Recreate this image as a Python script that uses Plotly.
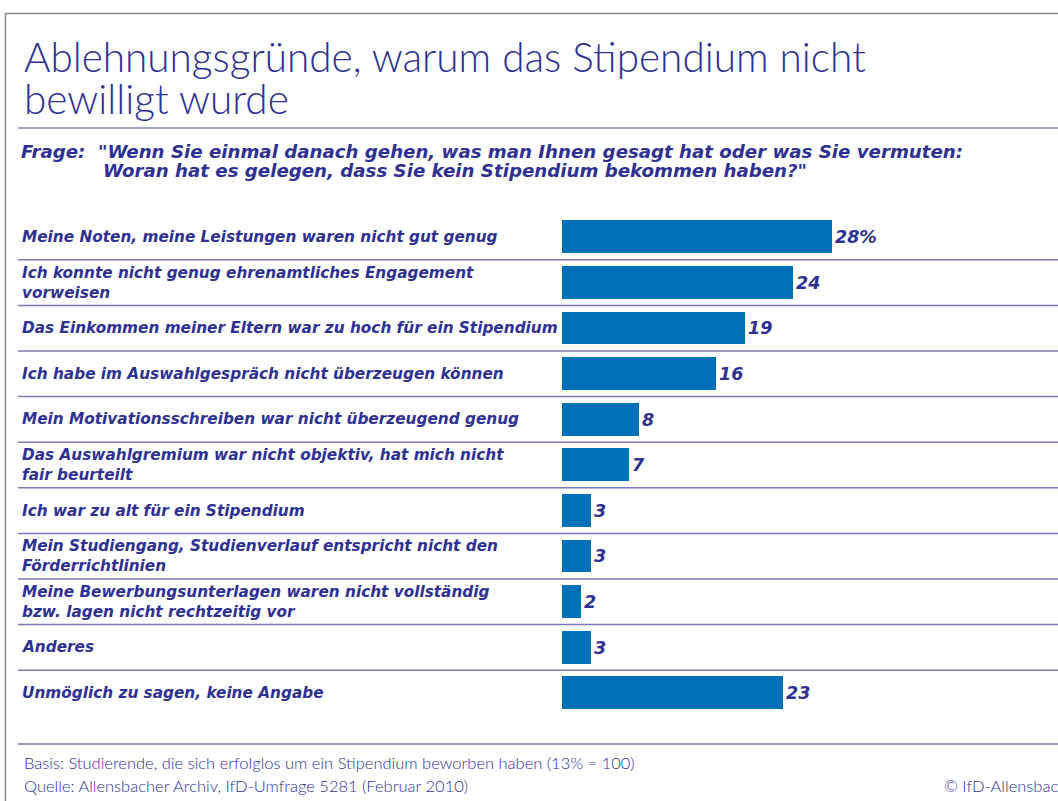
import plotly.graph_objects as go

categories = [
    "Meine Noten, meine Leistungen waren nicht gut genug",
    "Ich konnte nicht genug ehrenamtliches Engagement<br>vorweisen",
    "Das Einkommen meiner Eltern war zu hoch für ein Stipendium",
    "Ich habe im Auswahlgespräch nicht überzeugen können",
    "Mein Motivationsschreiben war nicht überzeugend genug",
    "Das Auswahlgremium war nicht objektiv, hat mich nicht<br>fair beurteilt",
    "Ich war zu alt für ein Stipendium",
    "Mein Studiengang, Studienverlauf entspricht nicht den<br>Förderrichtlinien",
    "Meine Bewerbungsunterlagen waren nicht vollständig<br>bzw. lagen nicht rechtzeitig vor",
    "Anderes",
    "Unmöglich zu sagen, keine Angabe",
]
values = [28, 24, 19, 16, 8, 7, 3, 3, 2, 3, 23]
value_labels = ["28%", "24", "19", "16", "8", "7", "3", "3", "2", "3", "23"]

title_lines = ["Ablehnungsgründe, warum das Stipendium nicht", "bewilligt wurde"]
question_1 = 'Frage:  "Wenn Sie einmal danach gehen, was man Ihnen gesagt hat oder was Sie vermuten:'
question_2 = 'Woran hat es gelegen, dass Sie kein Stipendium bekommen haben?"'
basis = "Basis: Studierende, die sich erfolglos um ein Stipendium beworben haben (13% = 100)"
source = "Quelle: Allensbacher Archiv, IfD-Umfrage 5281 (Februar 2010)"
copyright_text = "© IfD-Allensbach"

W, H = 1058, 801
TEXT = "#2e3192"
BAR = "#0070bb"
LINE = "#7a7ab8"

def px_x(p):
    return p / W

def px_y(p):
    return 1 - p / H

idx = list(range(len(categories)))

fig = go.Figure()
fig.add_trace(go.Bar(
    x=values, y=idx, orientation="h",
    marker=dict(color=BAR, line=dict(width=0)),
    width=0.72,
    text=value_labels, textposition="outside", cliponaxis=False,
    textfont=dict(family="DejaVu Sans", size=17.5, color=TEXT, weight="bold", style="italic"),
    hoverinfo="skip",
))

row_top, row_pitch = 214.2, 45.6
n = len(categories)
y_bottom = row_top + n * row_pitch

fig.update_layout(
    width=W, height=H,
    margin=dict(l=0, r=0, t=0, b=0),
    paper_bgcolor="white", plot_bgcolor="white",
    showlegend=False,
    bargap=0,
    xaxis=dict(domain=[562 / W, (562 + 50 * 9.63) / W], range=[0, 50],
               visible=False, fixedrange=True),
    yaxis=dict(domain=[px_y(y_bottom), px_y(row_top)], range=[n - 0.5, -0.5],
               visible=False, fixedrange=True),
)

annotations = []
for i, c in enumerate(categories):
    annotations.append(dict(
        x=px_x(20), xref="paper", y=i, yref="y", text=c, showarrow=False,
        xanchor="left", yanchor="middle", align="left",
        font=dict(family="DejaVu Sans", size=15.3, color=TEXT, weight="bold", style="italic"),
    ))

for k, (line, yc) in enumerate(zip(title_lines, [57, 99])):
    annotations.append(dict(
        x=px_x(22), xref="paper", y=px_y(yc), yref="paper", text=line, showarrow=False,
        xanchor="left", yanchor="middle",
        font=dict(family="Lato", size=40.5, color=TEXT, weight=300),
    ))

annotations.append(dict(
    x=px_x(19), xref="paper", y=px_y(151), yref="paper", text=question_1, showarrow=False,
    xanchor="left", yanchor="middle",
    font=dict(family="DejaVu Sans", size=18.2, color=TEXT, weight="bold", style="italic"),
))
annotations.append(dict(
    x=px_x(101), xref="paper", y=px_y(171), yref="paper", text=question_2, showarrow=False,
    xanchor="left", yanchor="middle",
    font=dict(family="DejaVu Sans", size=18.2, color=TEXT, weight="bold", style="italic"),
))
annotations.append(dict(
    x=px_x(22), xref="paper", y=px_y(763), yref="paper", text=basis, showarrow=False,
    xanchor="left", yanchor="middle",
    font=dict(family="Lato", size=16.5, color=TEXT, weight=300),
))
annotations.append(dict(
    x=px_x(22), xref="paper", y=px_y(786), yref="paper", text=source, showarrow=False,
    xanchor="left", yanchor="middle",
    font=dict(family="Lato", size=16.5, color=TEXT, weight=300),
))
annotations.append(dict(
    x=px_x(942), xref="paper", y=px_y(786), yref="paper", text=copyright_text, showarrow=False,
    xanchor="left", yanchor="middle",
    font=dict(family="Lato", size=16.5, color=TEXT, weight=300),
))
fig.update_layout(annotations=annotations)

shapes = []
# outer frame
shapes.append(dict(type="rect", xref="paper", yref="paper",
                   x0=px_x(5.5), x1=1.2, y0=-0.2, y1=px_y(13.5),
                   line=dict(color="#8c8c8c", width=1.5), fillcolor="rgba(0,0,0,0)"))
# title underline
shapes.append(dict(type="line", xref="paper", yref="paper",
                   x0=px_x(18), x1=1.1, y0=px_y(128), y1=px_y(128),
                   line=dict(color="#4b4ba8", width=1.2)))
# row separators
for i in range(n - 1):
    shapes.append(dict(type="line", xref="paper", yref="y",
                       x0=px_x(18), x1=1.1, y0=i + 0.5, y1=i + 0.5,
                       line=dict(color=LINE, width=1.5)))
# bottom line
shapes.append(dict(type="line", xref="paper", yref="paper",
                   x0=px_x(18), x1=1.1, y0=px_y(744), y1=px_y(744),
                   line=dict(color=LINE, width=1.5)))
fig.update_layout(shapes=shapes)

fig.write_html("out.html", config={"displayModeBar": False},
               post_script="document.body.style.margin='0';document.body.style.overflow='hidden';")
